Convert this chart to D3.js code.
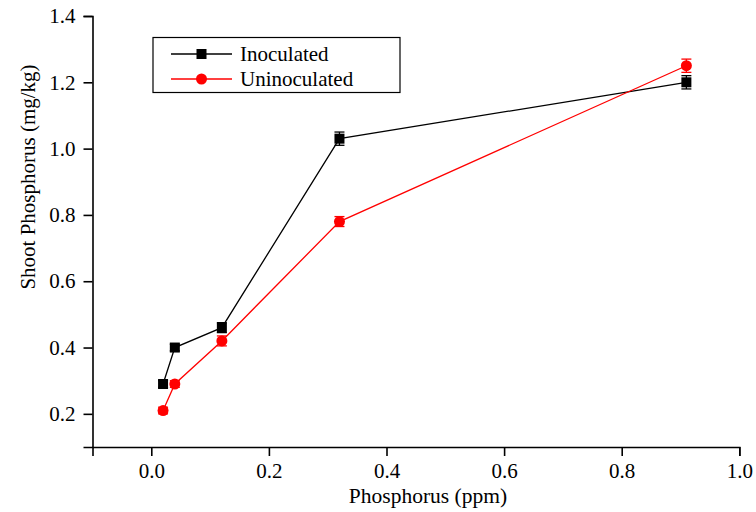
<!DOCTYPE html>
<html>
<head>
<meta charset="utf-8">
<script src="https://cdn.jsdelivr.net/npm/d3@7/dist/d3.min.js"></script>
<style>
  html, body { margin: 0; padding: 0; background: #fff; }
  svg { display: block; }
  svg text { font-family: "Liberation Serif", "Times New Roman", "DejaVu Serif", serif; fill: #000; }
</style>
</head>
<body>
<svg id="chart" width="756" height="512"></svg>
<script>
// Phosphorus supply (ppm)
const phosphorus = [0.02, 0.04, 0.12, 0.32, 0.91];
// Shoot phosphorus (mg/kg) with standard errors
const inoculated = [0.29, 0.40, 0.46, 1.03, 1.20];
const inoculatedErr = [0.01, 0.01, 0.015, 0.02, 0.02];
const uninoculated = [0.21, 0.29, 0.42, 0.78, 1.25];
const uninoculatedErr = [0.01, 0.01, 0.015, 0.015, 0.02];

const xTicks = [0.0, 0.2, 0.4, 0.6, 0.8, 1.0];
const yTicks = [0.2, 0.4, 0.6, 0.8, 1.0, 1.2, 1.4];

const series = [
  { name: "Inoculated", color: "#000000", shape: "square", y: inoculated, err: inoculatedErr },
  { name: "Uninoculated", color: "#ff0000", shape: "circle", y: uninoculated, err: uninoculatedErr }
];

const svg = d3.select("#chart");
const x = d3.scaleLinear().domain([-0.1, 1.0]).range([92.5, 739.3]);
const y = d3.scaleLinear().domain([0.1, 1.4]).range([447, 16]);

// Axes: major ticks labelled, minor ticks halfway between
const xMinor = d3.range(-0.1, 1.0001, 0.1).map(v => +v.toFixed(2));
const yMinor = d3.range(0.1, 1.4001, 0.1).map(v => +v.toFixed(2));

const gx = svg.append("g").attr("transform", `translate(0,${y.range()[0]})`);
gx.call(d3.axisBottom(x).tickValues(xMinor).tickSize(5).tickFormat(""));
gx.call(d3.axisBottom(x).tickValues(xTicks).tickSize(9).tickFormat(d3.format(".1f")));
gx.selectAll(".tick text").attr("y", 31).attr("dy", null);

const gy = svg.append("g").attr("transform", `translate(${x.range()[0]},0)`);
gy.call(d3.axisLeft(y).tickValues(yMinor).tickSize(5).tickFormat(""));
gy.call(d3.axisLeft(y).tickValues(yTicks).tickSize(9).tickPadding(8).tickFormat(d3.format(".1f")));

svg.selectAll("g").attr("font-family", null);
svg.selectAll(".domain").attr("stroke", "#000").attr("stroke-width", 1.6);
svg.selectAll(".tick line").attr("stroke", "#000").attr("stroke-width", 1.6);
svg.selectAll(".tick text").attr("font-size", 21);

// Axis titles
svg.append("text")
  .attr("x", 428).attr("y", 503)
  .attr("text-anchor", "middle").attr("font-size", 21.5).text("Phosphorus (ppm)");
svg.append("text")
  .attr("transform", "translate(35,177) rotate(-90)")
  .attr("text-anchor", "middle").attr("font-size", 21).text("Shoot Phosphorus (mg/kg)");

function drawMarker(g, shape, color, cx, cy) {
  if (shape === "square") {
    g.append("rect").attr("x", cx - 5).attr("y", cy - 5).attr("width", 10).attr("height", 10).attr("fill", color);
  } else {
    g.append("circle").attr("cx", cx).attr("cy", cy).attr("r", 5.5).attr("fill", color);
  }
}

const line = d3.line().x(d => x(d[0])).y(d => y(d[1]));

series.forEach(s => {
  const pts = phosphorus.map((p, i) => [p, s.y[i], s.err[i]]);
  const g = svg.append("g");
  g.append("path").datum(pts).attr("d", line)
    .attr("fill", "none").attr("stroke", s.color).attr("stroke-width", 1.3);
  pts.forEach(([p, v, e]) => {
    const cx = x(p);
    g.append("line").attr("x1", cx).attr("x2", cx).attr("y1", y(v - e)).attr("y2", y(v + e))
      .attr("stroke", s.color).attr("stroke-width", 1.3);
    [v - e, v + e].forEach(b => {
      g.append("line").attr("x1", cx - 5).attr("x2", cx + 5).attr("y1", y(b)).attr("y2", y(b))
        .attr("stroke", s.color).attr("stroke-width", 1.3);
    });
    drawMarker(g, s.shape, s.color, cx, y(v));
  });
});

// Legend
const legend = svg.append("g").attr("transform", "translate(153,37.5)");
legend.append("rect").attr("width", 247).attr("height", 55)
  .attr("fill", "#fff").attr("stroke", "#000").attr("stroke-width", 1.2);
series.forEach((s, i) => {
  const ly = 16.5 + i * 25;
  legend.append("line").attr("x1", 18).attr("x2", 79).attr("y1", ly).attr("y2", ly)
    .attr("stroke", s.color).attr("stroke-width", 1.3);
  drawMarker(legend, s.shape, s.color, 48.5, ly);
  legend.append("text").attr("x", 87).attr("y", ly + 7).attr("font-size", 21).text(s.name);
});
</script>
</body>
</html>
